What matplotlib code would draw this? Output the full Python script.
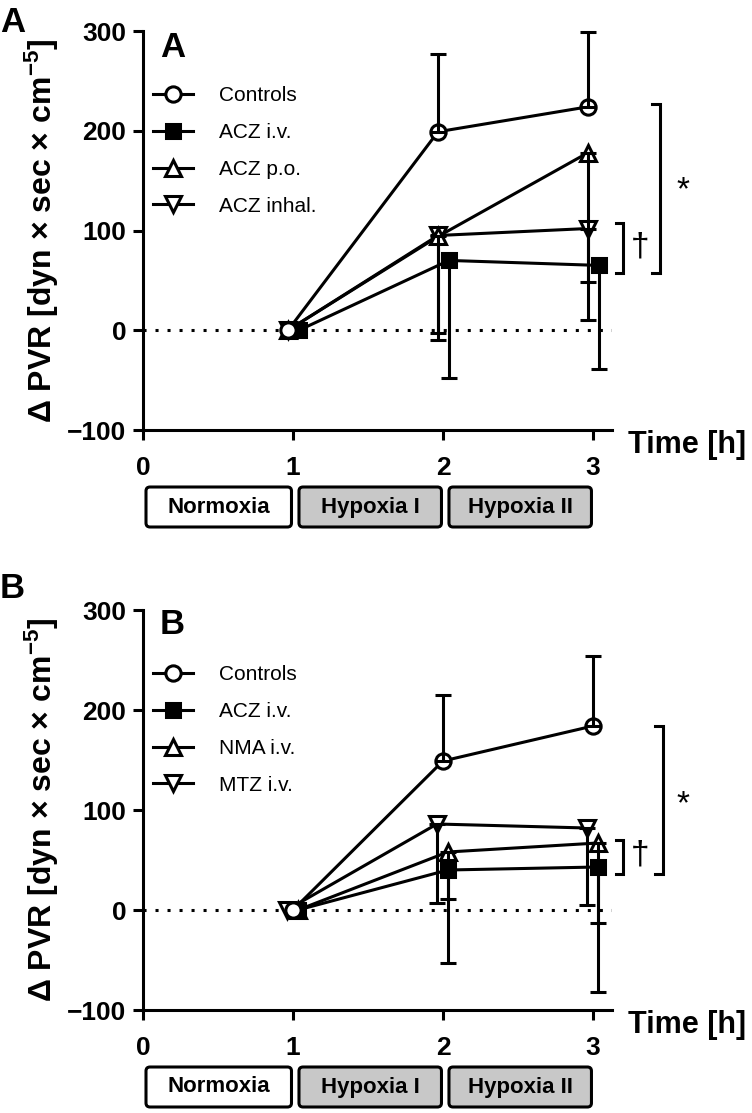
import matplotlib
matplotlib.use('Agg')
import matplotlib.pyplot as plt
import matplotlib.transforms as mtransforms
from matplotlib.patches import FancyBboxPatch

plt.rcParams['font.family'] = ['Liberation Sans', 'DejaVu Sans']
plt.rcParams['font.weight'] = 'bold'
plt.rcParams['mathtext.fontset'] = 'custom'
plt.rcParams['mathtext.rm'] = 'Liberation Sans:bold'
plt.rcParams['mathtext.default'] = 'rm'

# ---------------- data ----------------
time_h = [1, 2, 3]
xticks = [0, 1, 2, 3]
yticks = [-100, 0, 100, 200, 300]
phases = ['Normoxia', 'Hypoxia I', 'Hypoxia II']
phase_start = [0, 1, 2]
phase_end = [1, 2, 3]
phase_fill = ['white', '#c8c8c8', '#c8c8c8']

# Panel A
labels_a = ['Controls', 'ACZ i.v.', 'ACZ p.o.', 'ACZ inhal.']
ctrl_a = [0, 199, 224]
ctrl_a_err = [0, 78, 75]          # upper SD
acziv_a = [0, 70, 65]
acziv_a_err = [0, 118, 104]       # lower SD
aczpo_a = [0, 94, 178]
aczpo_a_err = [0, 97, 168]
aczinh_a = [0, 95, 102]
aczinh_a_err = [0, 105, 54]

# Panel B
labels_b = ['Controls', 'ACZ i.v.', 'NMA i.v.', 'MTZ i.v.']
ctrl_b = [0, 149, 184]
ctrl_b_err = [0, 66, 70]
acziv_b = [0, 40, 43]
acziv_b_err = [0, 93, 125]
nma_b = [0, 58, 67]
nma_b_err = [0, 47, 80]
mtz_b = [0, 86, 82]
mtz_b_err = [0, 79, 77]

# ---------------- style ----------------
markers = ['o', 's', '^', 'v']
faces = ['white', 'black', 'white', 'white']
msizes = [11, 10, 11, 11]
err_up = [True, False, False, False]
offs_a = [-0.033, 0.04, -0.033, -0.033]
offs_b = [0.0, 0.033, 0.033, -0.04]
LW = 2.2

fig = plt.figure(figsize=(7.52, 11.13), dpi=100)
H = 1113.0
W = 752.0
axA = fig.add_axes([143 / W, 1 - 430 / H, 469 / W, 399 / H])
axB = fig.add_axes([143 / W, 1 - 1010 / H, 469 / W, 400 / H])


def draw_panel(ax, means, errs, labels, offs, letter, ax_h_px, letter_base,
               brackets, stars):
    ax.axhline(0, color='black', lw=LW, linestyle=(0, (1, 2.93)), zorder=1)
    n = len(means)
    for i, (m, e, lab, off) in enumerate(zip(means, errs, labels, offs)):
        xs = [t + off for t in time_h]
        z = 3 + (n - i)
        ax.plot(xs, m, color='black', lw=LW, marker=markers[i], ms=msizes[i],
                mfc=faces[i], mec='black', mew=LW, label=lab, zorder=z,
                clip_on=False)
        if err_up[i]:
            yerr = [[0] * (len(m) - 1), e[1:]]
        else:
            yerr = [e[1:], [0] * (len(m) - 1)]
        ax.errorbar(xs[1:], m[1:], yerr=yerr, fmt='none', ecolor='black',
                    elinewidth=LW, capsize=5.5, capthick=LW, zorder=z,
                    clip_on=False)

    ax.set_xlim(0, 3.127)
    ax.set_ylim(-100, 300)
    ax.set_xticks(xticks)
    ax.set_yticks(yticks)
    ax.spines['top'].set_visible(False)
    ax.spines['right'].set_visible(False)
    for s in ['left', 'bottom']:
        ax.spines[s].set_linewidth(LW)
    ax.tick_params(direction='out', length=7, width=LW, labelsize=19)
    ax.tick_params(axis='x', pad=12)
    ax.tick_params(axis='y', pad=5)
    for lbl in ax.get_xticklabels() + ax.get_yticklabels():
        lbl.set_fontweight('bold')

    ax.set_ylabel('Δ PVR [dyn × sec × cm$^{-5}$]', fontsize=23,
                  fontweight='bold')
    ax.yaxis.set_label_coords(-0.175, 0.5)

    ax.text(1.034, -23 / ax_h_px, 'Time [h]', transform=ax.transAxes,
            fontsize=22, fontweight='bold', ha='left', va='baseline')

    ax.text(0.036, 1 - letter_base / ax_h_px, letter, transform=ax.transAxes,
            fontsize=25, fontweight='bold', ha='left', va='baseline')

    ax.legend(loc='upper left', bbox_to_anchor=(0.0213, 1 - 55 / ax_h_px),
              frameon=False, prop={'size': 15, 'weight': 'normal'},
              handlelength=1.92, handletextpad=1.25, labelspacing=0.86,
              borderpad=0, borderaxespad=0)

    # phase boxes
    trans = mtransforms.blended_transform_factory(ax.transData, ax.transAxes)
    top = -57 / ax_h_px
    bh = 40 / ax_h_px
    for name, s, e, fc in zip(phases, phase_start, phase_end, phase_fill):
        x0 = s + (0.02 if s == 0 else 0.04)
        x1 = e - 0.01
        box = FancyBboxPatch((x0, top - bh), x1 - x0, bh,
                             boxstyle='round,pad=0,rounding_size=0.027',
                             mutation_aspect=(4 / ax_h_px) / 0.027,
                             transform=trans, facecolor=fc, edgecolor='black',
                             lw=LW, clip_on=False)
        ax.add_patch(box)
        ax.text((x0 + x1) / 2, top - bh / 2, name, transform=trans,
                fontsize=16, fontweight='bold', ha='center', va='center')

    # significance brackets
    for (xv, xl, y0, y1) in brackets:
        ax.plot([xl, xv, xv, xl], [y0, y0, y1, y1], color='black', lw=LW,
                clip_on=False, solid_joinstyle='miter')
    for (xs_, ys_, sym) in stars:
        ax.text(xs_, ys_, sym, fontsize=24, fontweight='normal',
                ha='center', va='center')


draw_panel(axA, [ctrl_a, acziv_a, aczpo_a, aczinh_a],
           [ctrl_a_err, acziv_a_err, aczpo_a_err, aczinh_a_err],
           labels_a, offs_a, 'A', 399.0, 26,
           [(3.447, 3.393, 227, 57), (3.2, 3.153, 108, 57)],
           [(3.6, 140, '*'), (3.313, 83, '†')])
draw_panel(axB, [ctrl_b, acziv_b, nma_b, mtz_b],
           [ctrl_b_err, acziv_b_err, nma_b_err, mtz_b_err],
           labels_b, offs_b, 'B', 400.0, 24,
           [(3.467, 3.413, 184, 36), (3.2, 3.153, 70, 36)],
           [(3.6, 105, '*'), (3.313, 55, '†')])

fig.text(0.0, 1 - 32 / H, 'A', fontsize=25, fontweight='bold', ha='left',
         va='baseline')
fig.text(0.0, 1 - 598 / H, 'B', fontsize=25, fontweight='bold', ha='left',
         va='baseline')

fig.savefig('out.png', dpi=100)
